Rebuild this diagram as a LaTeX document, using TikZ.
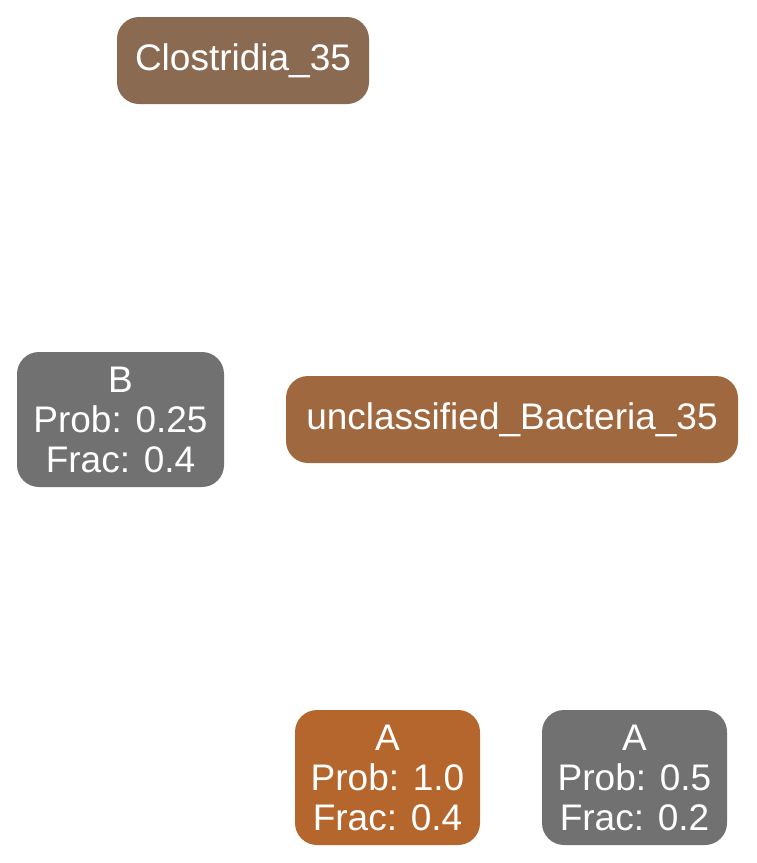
\documentclass[tikz,border=0pt]{standalone}
\usepackage{fontspec}
\setmainfont{Liberation Sans}
\definecolor{closbrown}{HTML}{8B6A52}
\definecolor{bactbrown}{HTML}{A0683F}
\definecolor{hitorange}{HTML}{B5662D}
\definecolor{missgray}{HTML}{717171}
\begin{document}
\begin{tikzpicture}[x=1pt,y=-1pt,
    box/.style={rounded corners=22pt,inner sep=0pt,text=white,align=center,
      font=\fontsize{37}{40}\selectfont},
    taxon/.style={box,minimum height=87pt},
    leaf/.style={box,minimum width=185pt,minimum height=135pt}]
  \useasboundingbox (0,0) rectangle (756,863);
  \node[taxon,fill=closbrown,minimum width=252pt] (clos) at (243,60.5) {Clostridia\_35};
  \node[leaf,fill=missgray,minimum width=207pt] (nb) at (120.5,419.5) {B\\Prob: 0.25\\Frac: 0.4};
  \node[taxon,fill=bactbrown,minimum width=452pt] (unbact) at (512,419.5) {unclassified\_Bacteria\_35};

  % leaves at the bottom
  \node[leaf,fill=hitorange] (na1) at (387.5,777.5) {A\\Prob: 1.0\\Frac: 0.4};
  \node[leaf,fill=missgray] (na2) at (634.5,777.5) {A\\Prob: 0.5\\Frac: 0.2};
\end{tikzpicture}
\end{document}
